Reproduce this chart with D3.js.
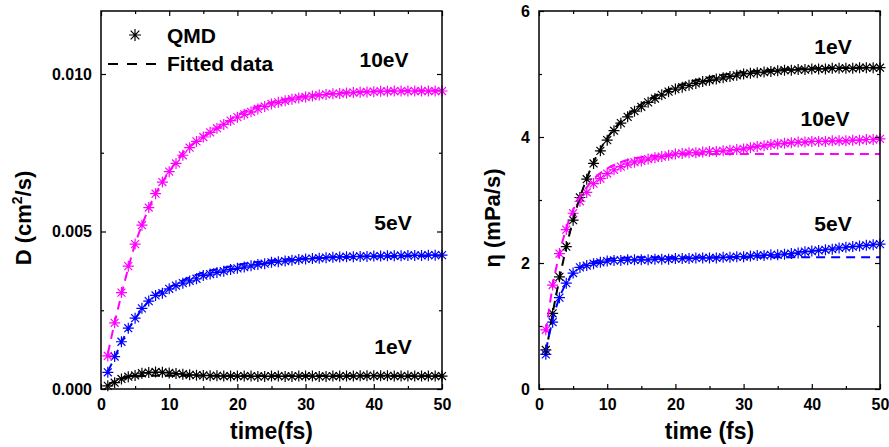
<!DOCTYPE html>
<html><head><meta charset="utf-8">
<script src="https://cdn.jsdelivr.net/npm/d3@7"></script>
<style>
html,body{margin:0;padding:0;background:#fff;}
svg{display:block;font-family:"Liberation Sans",Arial,sans-serif;font-weight:bold;}
</style></head>
<body><svg id="c" width="889" height="447"></svg>
<script>
// ---- data ----
const time = [1,2,3,4,5,6,7,8,9,10,11,12,13,14,15,16,17,18,19,20,21,22,23,24,25,26,27,28,29,30,31,32,33,34,35,36,37,38,39,40,41,42,43,44,45,46,47,48,49,50];

// Left panel: diffusion coefficient D (cm^2/s)
const D_10eV = [0.00105,0.0021,0.00306,0.0039,0.0046,0.0052,0.00576,0.0062,0.00657,0.0069,0.00716,0.00742,0.00766,0.00786,0.0080,0.00815,0.00828,0.0084,0.00852,0.00863,0.00872,0.0088,0.00889,0.00897,0.00905,0.0091,0.00915,0.0092,0.00924,0.00927,0.0093,0.00933,0.00935,0.00937,0.00938,0.0094,0.00941,0.00942,0.00943,0.00944,0.00945,0.00945,0.00946,0.00946,0.00946,0.00946,0.00946,0.00946,0.00946,0.00946];
const D_5eV = [0.00053,0.00103,0.0015,0.00193,0.00225,0.00256,0.00279,0.00297,0.00304,0.00318,0.00328,0.00336,0.00343,0.0035,0.0036,0.00365,0.0037,0.00374,0.00379,0.00383,0.00387,0.00391,0.00395,0.00398,0.00402,0.00404,0.00406,0.00409,0.00411,0.00413,0.00414,0.00415,0.00417,0.00418,0.00419,0.0042,0.0042,0.00421,0.00421,0.00422,0.00422,0.00423,0.00423,0.00423,0.00424,0.00424,0.00424,0.00425,0.00425,0.00425];
const D_1eV = [0.0001,0.0002,0.00032,0.00039,0.00043,0.0005,0.00052,0.00054,0.00053,0.00051,0.00049,0.00047,0.00045,0.00044,0.00043,0.00042,0.00042,0.00041,0.00041,0.00041,0.00041,0.00041,0.0004,0.0004,0.00041,0.00041,0.0004,0.0004,0.00041,0.00041,0.00041,0.0004,0.0004,0.00041,0.00041,0.00041,0.00041,0.00042,0.00042,0.00042,0.00042,0.00042,0.00041,0.00041,0.00041,0.00041,0.00041,0.00041,0.00041,0.00041];

const fitTimeD = [1,2,3,4,5,6,8,10,12,15,18,20,25,30,35,40,45,50];
const Dfit_10eV = [0.00112,0.0021,0.0030,0.00385,0.0046,0.0052,0.0062,0.0069,0.0075,0.0080,0.0084,0.0087,0.0091,0.0093,0.0094,0.00945,0.00947,0.00948];
const Dfit_5eV  = [0.00055,0.0010,0.00148,0.0019,0.00223,0.00253,0.0030,0.00322,0.00345,0.0037,0.00385,0.00394,0.00408,0.00415,0.00419,0.00421,0.00422,0.00423];
const Dfit_1eV  = [0.00012,0.00025,0.00033,0.00038,0.0004,0.00041,0.00042,0.00042,0.00042,0.00042,0.00042,0.00042,0.00042,0.00042,0.00042,0.00042,0.00042,0.00042];

// Right panel: viscosity eta (mPa/s)
const eta_1eV = [0.62,1.2,1.78,2.26,2.68,3.04,3.33,3.58,3.78,3.95,4.1,4.22,4.32,4.41,4.48,4.55,4.61,4.67,4.72,4.76,4.79,4.82,4.85,4.88,4.9,4.92,4.94,4.96,4.98,5.0,5.01,5.02,5.03,5.04,5.05,5.06,5.06,5.07,5.07,5.08,5.08,5.08,5.09,5.09,5.09,5.09,5.1,5.1,5.1,5.1];
const eta_10eV = [0.94,1.65,2.15,2.53,2.79,2.98,3.12,3.26,3.34,3.42,3.48,3.53,3.57,3.6,3.62,3.65,3.67,3.69,3.71,3.73,3.74,3.75,3.75,3.76,3.77,3.77,3.78,3.79,3.8,3.81,3.83,3.85,3.86,3.88,3.89,3.9,3.91,3.92,3.92,3.93,3.93,3.93,3.94,3.94,3.94,3.95,3.95,3.96,3.96,3.97];
const eta_5eV = [0.55,1.06,1.45,1.68,1.84,1.93,1.96,1.99,2.01,2.03,2.04,2.04,2.05,2.05,2.05,2.05,2.06,2.06,2.06,2.07,2.07,2.07,2.08,2.08,2.08,2.08,2.09,2.09,2.1,2.1,2.11,2.12,2.12,2.13,2.13,2.14,2.15,2.16,2.18,2.19,2.2,2.21,2.22,2.24,2.25,2.26,2.27,2.28,2.29,2.3];

const fitTimeEta = [1,2,3,4,5,6,7,8,10,12,15,20,25,30,35,40,45,50];
const etafit_1eV  = [0.55,1.2,1.75,2.25,2.68,3.04,3.34,3.6,3.98,4.25,4.52,4.8,4.95,5.03,5.07,5.09,5.1,5.1];
const etafit_10eV = [0.9,1.63,2.15,2.55,2.84,3.05,3.2,3.33,3.5,3.6,3.68,3.72,3.73,3.73,3.73,3.73,3.73,3.73];
const etafit_5eV  = [0.6,1.1,1.45,1.68,1.83,1.93,1.98,2.02,2.06,2.08,2.09,2.09,2.09,2.09,2.09,2.09,2.09,2.09];

const xTicks = [0,10,20,30,40,50];
const xMinor = [5,15,25,35,45];
const dTicks = [0,0.005,0.010];
const dMinor = [0.0025,0.0075,0.0125];
const etaTicks = [0,2,4,6];
const etaMinor = [1,3,5];

const MAG = "#ff00ff", BLUE = "#0000ff", BLK = "#000000";

// ---- drawing ----
const svg = d3.select("#c");

function asterisk(g, x, y, color, r, w) {
  return g.append("path")
    .attr("d", `M${x-r},${y}H${x+r}M${x},${y-r}V${y+r}M${x-r*0.72},${y-r*0.72}L${x+r*0.72},${y+r*0.72}M${x-r*0.72},${y+r*0.72}L${x+r*0.72},${y-r*0.72}`)
    .attr("stroke", color).attr("stroke-width", w || 1.2).attr("fill", "none");
}

function panel(opt) {
  const {left, right, top, bottom, yDomain, yTicks, yMinor, yFmt, series, fits, fitT, labels, xTitle, yTitle, yTitleX} = opt;
  const x = d3.scaleLinear().domain([0,50]).range([left,right]);
  const y = d3.scaleLinear().domain(yDomain).range([bottom,top]);
  const g = svg.append("g");

  series.forEach(s => {
    const mg = g.append("g");
    time.forEach((t,i) => asterisk(mg, x(t), y(s.v[i]), s.c, 5.5));
  });
  const line = d3.line().x(d => x(d[0])).y(d => y(d[1])).curve(d3.curveMonotoneX);
  fits.forEach(f => {
    g.append("path").attr("d", line(fitT.map((t,i)=>[t,f.v[i]])))
      .attr("fill","none").attr("stroke",f.c).attr("stroke-width",2)
      .attr("stroke-dasharray","9,6");
  });

  g.append("rect").attr("x",left).attr("y",top).attr("width",right-left).attr("height",bottom-top)
    .attr("fill","none").attr("stroke","#000").attr("stroke-width",1.5);

  g.append("g").attr("transform",`translate(0,${bottom})`)
    .call(d3.axisBottom(x).tickValues(xTicks).tickSize(-5).tickPadding(10).tickFormat(d3.format("d")));
  g.append("g").attr("transform",`translate(0,${bottom})`).call(d3.axisBottom(x).tickValues(xMinor).tickSize(-3).tickFormat(""));
  g.append("g").attr("transform",`translate(0,${top})`).call(d3.axisTop(x).tickValues(xTicks).tickSize(-5).tickFormat(""));
  g.append("g").attr("transform",`translate(0,${top})`).call(d3.axisTop(x).tickValues(xMinor).tickSize(-3).tickFormat(""));

  g.append("g").attr("transform",`translate(${left},0)`)
    .call(d3.axisLeft(y).tickValues(yTicks).tickSize(-5).tickPadding(9).tickFormat(yFmt));
  g.append("g").attr("transform",`translate(${left},0)`).call(d3.axisLeft(y).tickValues(yMinor.filter(v=>v<yDomain[1])).tickSize(-3).tickFormat(""));
  g.append("g").attr("transform",`translate(${right},0)`).call(d3.axisRight(y).tickValues(yTicks).tickSize(-5).tickFormat(""));
  g.append("g").attr("transform",`translate(${right},0)`).call(d3.axisRight(y).tickValues(yMinor.filter(v=>v<yDomain[1])).tickSize(-3).tickFormat(""));

  g.selectAll(".domain").remove();
  g.selectAll(".tick line").attr("stroke","#000").attr("stroke-width",1.2);
  g.selectAll(".tick text").attr("font-size",16).attr("font-weight","bold")
    .attr("font-family","'Liberation Sans',Arial,sans-serif").attr("fill","#000");

  labels.forEach(l => {
    g.append("text").attr("x",l.x).attr("y",l.y).attr("text-anchor","middle")
      .attr("font-size",21).attr("font-weight","bold").text(l.t);
  });

  g.append("text").attr("x",(left+right)/2).attr("y",439).attr("text-anchor","middle")
    .attr("font-size",23).attr("font-weight","bold").text(xTitle);
  const yt = g.append("text").attr("transform",`translate(${yTitleX},${(top+bottom)/2 + 18}) rotate(-90)`)
    .attr("text-anchor","middle").attr("font-size",22).attr("font-weight","bold");
  yTitle(yt);
  return {x,y,g};
}

panel({
  left:101, right:442, top:11, bottom:389,
  yDomain:[0,0.012], yTicks:dTicks, yMinor:dMinor, yFmt:d3.format(".3f"),
  series:[{v:D_1eV,c:BLK},{v:D_5eV,c:BLUE},{v:D_10eV,c:MAG}],
  fits:[{v:Dfit_1eV,c:BLK},{v:Dfit_5eV,c:BLUE},{v:Dfit_10eV,c:MAG}],
  fitT:fitTimeD,
  labels:[{t:"10eV",x:384,y:67},{t:"5eV",x:393,y:230},{t:"1eV",x:393,y:354}],
  xTitle:"time(fs)",
  yTitle: t => { t.append("tspan").text("D (cm"); t.append("tspan").attr("font-size",14).attr("dy",-9).text("2");
                 t.append("tspan").attr("dy",9).text("/s)"); },
  yTitleX:31
});

panel({
  left:539, right:880, top:11, bottom:389,
  yDomain:[0,6], yTicks:etaTicks, yMinor:etaMinor, yFmt:d3.format("d"),
  series:[{v:eta_1eV,c:BLK},{v:eta_5eV,c:BLUE},{v:eta_10eV,c:MAG}],
  fits:[{v:etafit_1eV,c:BLK},{v:etafit_5eV,c:BLUE},{v:etafit_10eV,c:MAG}],
  fitT:fitTimeEta,
  labels:[{t:"1eV",x:833,y:54},{t:"10eV",x:825,y:126},{t:"5eV",x:833,y:231}],
  xTitle:"time (fs)",
  yTitle: t => { t.text("η (mPa/s)"); },
  yTitleX:500
});

// legend (left panel)
const lg = svg.append("g");
asterisk(lg, 135, 35, "#000", 6, 1.2);
lg.append("text").attr("x",167).attr("y",43).attr("font-size",21).attr("font-weight","bold").text("QMD");
lg.append("line").attr("x1",108).attr("x2",156).attr("y1",64).attr("y2",64)
  .attr("stroke","#000").attr("stroke-width",2).attr("stroke-dasharray","10,9");
lg.append("text").attr("x",167).attr("y",71).attr("font-size",21).attr("font-weight","bold").text("Fitted data");
</script></body></html>
